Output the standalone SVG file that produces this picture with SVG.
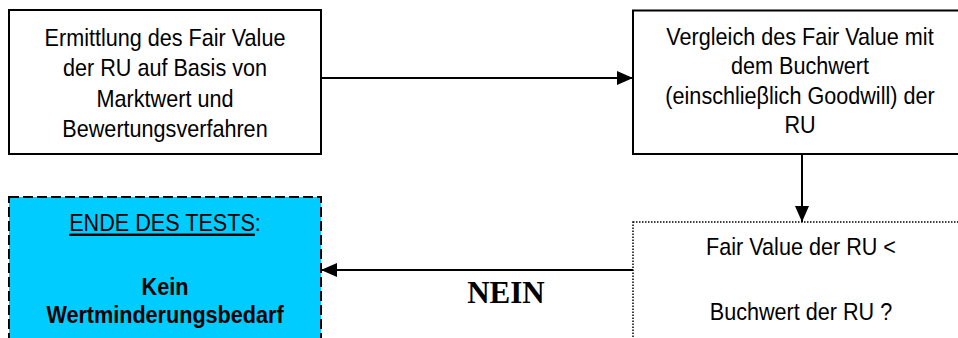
<svg xmlns="http://www.w3.org/2000/svg" width="958" height="338" viewBox="0 0 958 338">
<style>
.box{fill:#fff;stroke:#000;stroke-width:2}
.t{font-family:"Liberation Sans",Arial,sans-serif;font-size:24px;fill:#000;text-anchor:middle}
.b{font-weight:bold}
.con{stroke:#000;stroke-width:2;fill:none}
</style>
<defs>
<marker id="ah" markerWidth="16" markerHeight="14" refX="16" refY="7" orient="auto" markerUnits="userSpaceOnUse">
<path d="M0,0 L16,7 L0,14 Z" fill="#000"/>
</marker>
</defs>
<rect width="958" height="338" fill="#fff"/>
<g id="node-ermittlung">
<rect class="box" x="9" y="10" width="312" height="144"/>
<g transform="matrix(0.9 0 0 1 165 0)">
<text class="t" x="0" y="46">Ermittlung des Fair Value</text>
<text class="t" x="0" y="76.5">der RU auf Basis von</text>
<text class="t" x="0" y="107">Marktwert und</text>
<text class="t" x="0" y="137.5">Bewertungsverfahren</text>
</g>
</g>
<g id="node-vergleich">
<rect class="box" x="633" y="10.5" width="340" height="143.5"/>
<g transform="matrix(0.9 0 0 1 800 0)">
<text class="t" x="0" y="45">Vergleich des Fair Value mit</text>
<text class="t" x="0" y="74.5">dem Buchwert</text>
<text class="t" x="0" y="104">(einschlieβlich Goodwill) der</text>
<text class="t" x="0" y="133.5">RU</text>
</g>
</g>
<g id="node-frage">
<rect x="633" y="222" width="340" height="130" fill="#fff" stroke="#000" stroke-width="1.5" stroke-dasharray="1.5 1.5"/>
<g transform="matrix(0.9 0 0 1 801 0)">
<text class="t" x="0" y="255">Fair Value der RU &lt;</text>
<text class="t" x="0" y="320">Buchwert der RU ?</text>
</g>
</g>
<g id="node-ende">
<rect x="9" y="197" width="312" height="160" fill="#00CCFF" stroke="#000" stroke-width="2" stroke-dasharray="10 4"/>
<g transform="matrix(0.9 0 0 1 165 0)">
<text class="t" x="0" y="231.5"><tspan text-decoration="underline">ENDE DES TESTS</tspan>:</text>
<text class="t b" x="0" y="295">Kein</text>
<text class="t b" x="0" y="323">Wertminderungsbedarf</text>
</g>
</g>
<g id="connectors">
<line class="con" x1="321" y1="78" x2="633" y2="78" marker-end="url(#ah)"/>
<line class="con" x1="802" y1="154" x2="802" y2="222" marker-end="url(#ah)"/>
<line class="con" x1="633" y1="270" x2="321" y2="270" marker-end="url(#ah)"/>
<text x="506" y="303" font-family="'Liberation Serif','Times New Roman',serif" font-size="31" font-weight="bold" text-anchor="middle">NEIN</text>
</g>
</svg>
